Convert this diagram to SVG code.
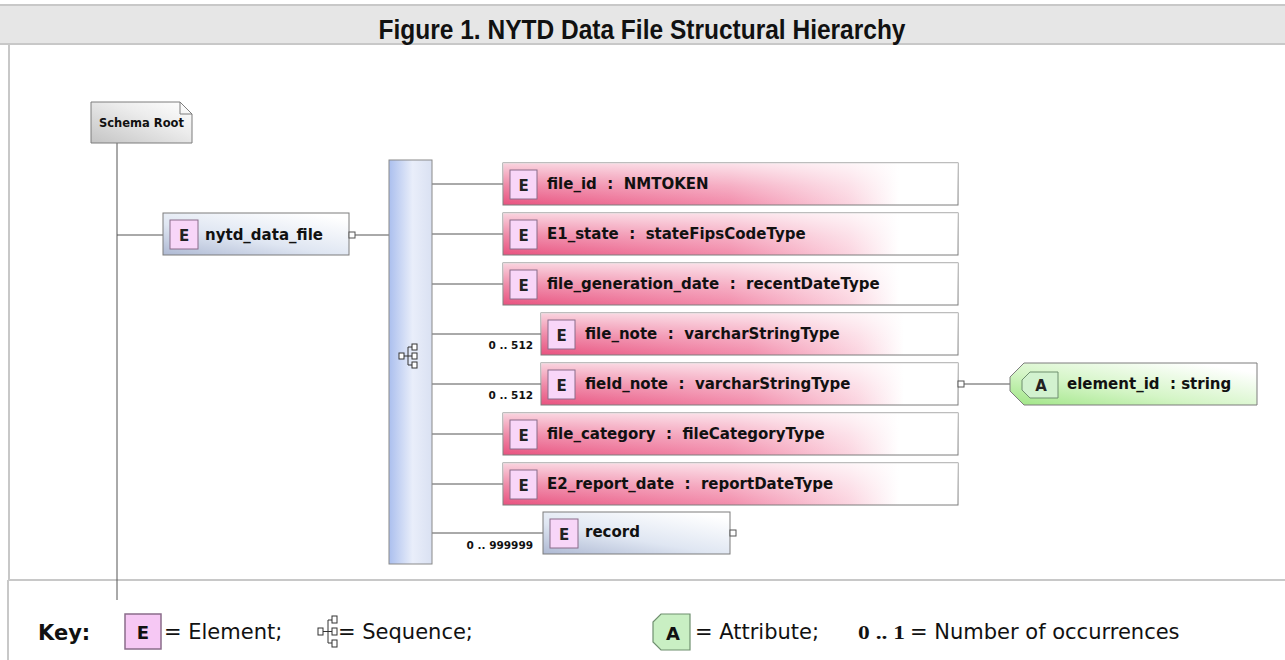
<svg xmlns="http://www.w3.org/2000/svg" width="1285" height="660" viewBox="0 0 1285 660">
<defs>
<linearGradient id="pinkH" x1="0" y1="0" x2="1" y2="0">
<stop offset="0" stop-color="#e8527f"/>
<stop offset="0.5" stop-color="#f28cab"/>
<stop offset="0.76" stop-color="#fbd3df"/>
<stop offset="0.87" stop-color="#ffffff"/>
</linearGradient>
<linearGradient id="whiteV" x1="0" y1="0" x2="0" y2="1">
<stop offset="0" stop-color="#ffffff" stop-opacity="0.75"/>
<stop offset="0.55" stop-color="#ffffff" stop-opacity="0.3"/>
<stop offset="1" stop-color="#ffffff" stop-opacity="0"/>
</linearGradient>
<linearGradient id="blueBox" x1="0" y1="1" x2="0.8" y2="0">
<stop offset="0" stop-color="#aeb9d3"/>
<stop offset="0.45" stop-color="#dfe6f2"/>
<stop offset="1" stop-color="#ffffff"/>
</linearGradient>
<linearGradient id="seqGrad" x1="0" y1="0" x2="1" y2="0">
<stop offset="0" stop-color="#abbfee"/>
<stop offset="0.55" stop-color="#e9eefa"/>
<stop offset="1" stop-color="#dae1f2"/>
</linearGradient>
<linearGradient id="grayGrad" x1="0" y1="1" x2="1" y2="0">
<stop offset="0" stop-color="#c4c4c4"/>
<stop offset="0.6" stop-color="#ececec"/>
<stop offset="1" stop-color="#ffffff"/>
</linearGradient>
<linearGradient id="greenGrad" x1="0" y1="1" x2="1" y2="0">
<stop offset="0" stop-color="#9fe585"/>
<stop offset="0.4" stop-color="#d4f5c6"/>
<stop offset="0.88" stop-color="#ffffff"/>
</linearGradient>
</defs>
<style>
.frame{stroke:#c8c8c8;stroke-width:2;fill:none}
.box{stroke:#7d7d7d;stroke-width:1}
.ebox{fill:#f8d6f8;stroke:#8a6c8a;stroke-width:1}
.etxt{font-family:"DejaVu Sans",Verdana,sans-serif;font-weight:bold;font-size:15px;fill:#111;white-space:pre}
.eltr{font-family:"DejaVu Sans",Verdana,sans-serif;font-weight:bold;font-size:15px;fill:#222;text-anchor:middle}
.occ{font-family:"DejaVu Sans",Verdana,sans-serif;font-weight:bold;font-size:10.5px;fill:#111;text-anchor:end;white-space:pre}
.conn line{stroke:#555;stroke-width:1}
.port{fill:#fff;stroke:#555;stroke-width:1}
.key{font-family:"DejaVu Sans",Verdana,sans-serif;font-size:21px;fill:#111}
.seqi{stroke:#333;stroke-width:1;fill:none}
.seqs{stroke:#333;stroke-width:1;fill:#fff}
</style>
<rect x="0" y="0" width="1285" height="660" fill="#fff"/>
<!-- title band -->
<rect x="0" y="5" width="1285" height="39" fill="#e6e6e6"/>
<line x1="0" y1="5" x2="1285" y2="5" class="frame"/>
<line x1="0" y1="44" x2="1285" y2="44" class="frame"/>
<line x1="9" y1="44" x2="9" y2="580" class="frame"/>
<line x1="8" y1="580" x2="1285" y2="580" class="frame"/>
<line x1="8" y1="580" x2="8" y2="660" class="frame"/>
<text x="642" y="39" text-anchor="middle" font-family="Liberation Sans, Arial, sans-serif" font-weight="bold" font-size="27" textLength="527" lengthAdjust="spacingAndGlyphs" fill="#111">Figure 1. NYTD Data File Structural Hierarchy</text>

<!-- connectors -->
<g id="connectors" class="conn">
<line x1="117" y1="143" x2="117" y2="600"/>
<line x1="117" y1="235" x2="163" y2="235"/>
<line x1="355" y1="235" x2="389" y2="235"/>
<line x1="432" y1="184" x2="503" y2="184"/>
<line x1="432" y1="234" x2="503" y2="234"/>
<line x1="432" y1="284" x2="503" y2="284"/>
<line x1="432" y1="334" x2="541" y2="334"/>
<line x1="432" y1="384" x2="541" y2="384"/>
<line x1="432" y1="434" x2="503" y2="434"/>
<line x1="432" y1="484" x2="503" y2="484"/>
<line x1="432" y1="533" x2="543" y2="533"/>
<line x1="964" y1="384" x2="1010" y2="384"/>
</g>

<g id="schema_root">
<path d="M91,102 H180 L192,114 V143 H91 Z" fill="url(#grayGrad)" class="box"/>
<path d="M180,102 V114 H192" fill="none" stroke="#7d7d7d"/>
<text x="99" y="127" class="etxt" style="font-size:11.5px">Schema Root</text>
</g>

<g id="nytd_data_file">
<rect x="163" y="213" width="186" height="42" fill="url(#blueBox)" class="box"/>
<rect x="170" y="220" width="28" height="29" class="ebox"/>
<text x="184" y="241" class="eltr">E</text>
<text x="205" y="240" class="etxt">nytd_data_file</text>
<rect x="349" y="232" width="6" height="6" class="port"/>
</g>

<g id="sequence">
<rect x="389" y="160" width="43" height="404" fill="url(#seqGrad)" stroke="#8a8a8a"/>
<rect x="399" y="353" width="5" height="6" class="seqs"/>
<line x1="404" y1="356" x2="408" y2="356" class="seqi"/>
<line x1="408" y1="347" x2="408" y2="365" class="seqi"/>
<line x1="408" y1="347" x2="412" y2="347" class="seqi"/>
<line x1="408" y1="356" x2="412" y2="356" class="seqi"/>
<line x1="408" y1="365" x2="412" y2="365" class="seqi"/>
<rect x="412" y="344" width="5" height="6" class="seqs"/>
<rect x="412" y="353" width="5" height="6" class="seqs"/>
<rect x="412" y="362" width="5" height="6" class="seqs"/>
</g>

<g id="file_id">
<rect x="503" y="163" width="455" height="42" fill="url(#pinkH)" class="box"/>
<rect x="503" y="163" width="455" height="42" fill="url(#whiteV)"/>
<rect x="510" y="170" width="27" height="29" class="ebox"/>
<text x="523.5" y="191" class="eltr">E</text>
<text x="547" y="189" class="etxt" xml:space="preserve">file_id  :  NMTOKEN</text>
</g>

<g id="E1_state">
<rect x="503" y="213" width="455" height="42" fill="url(#pinkH)" class="box"/>
<rect x="503" y="213" width="455" height="42" fill="url(#whiteV)"/>
<rect x="510" y="220" width="27" height="29" class="ebox"/>
<text x="523.5" y="241" class="eltr">E</text>
<text x="547" y="239" class="etxt" xml:space="preserve">E1_state  :  stateFipsCodeType</text>
</g>

<g id="file_generation_date">
<rect x="503" y="263" width="455" height="42" fill="url(#pinkH)" class="box"/>
<rect x="503" y="263" width="455" height="42" fill="url(#whiteV)"/>
<rect x="510" y="270" width="27" height="29" class="ebox"/>
<text x="523.5" y="291" class="eltr">E</text>
<text x="547" y="289" class="etxt" xml:space="preserve">file_generation_date  :  recentDateType</text>
</g>

<g id="file_note">
<rect x="541" y="313" width="417" height="42" fill="url(#pinkH)" class="box"/>
<rect x="541" y="313" width="417" height="42" fill="url(#whiteV)"/>
<rect x="548" y="320" width="27" height="29" class="ebox"/>
<text x="561.5" y="341" class="eltr">E</text>
<text x="585" y="339" class="etxt" xml:space="preserve">file_note  :  varcharStringType</text>
<text x="533" y="349" class="occ">0 .. 512</text>
</g>

<g id="field_note">
<rect x="541" y="363" width="417" height="42" fill="url(#pinkH)" class="box"/>
<rect x="541" y="363" width="417" height="42" fill="url(#whiteV)"/>
<rect x="548" y="370" width="27" height="29" class="ebox"/>
<text x="561.5" y="391" class="eltr">E</text>
<text x="585" y="389" class="etxt" xml:space="preserve">field_note  :  varcharStringType</text>
<text x="533" y="399" class="occ">0 .. 512</text>
<rect x="958" y="381" width="6" height="6" class="port"/>
</g>

<g id="element_id">
<path d="M1024,363 H1257 V405 H1024 L1010,391 V377 Z" fill="url(#greenGrad)" class="box"/>
<path d="M1030,372 H1058 V398 H1030 L1022,390 V380 Z" fill="#d2f2cf" stroke="#6f8f6f"/>
<text x="1041" y="391" class="eltr">A</text>
<text x="1067" y="389" class="etxt" xml:space="preserve">element_id  : string</text>
</g>

<g id="file_category">
<rect x="503" y="413" width="455" height="42" fill="url(#pinkH)" class="box"/>
<rect x="503" y="413" width="455" height="42" fill="url(#whiteV)"/>
<rect x="510" y="420" width="27" height="29" class="ebox"/>
<text x="523.5" y="441" class="eltr">E</text>
<text x="547" y="439" class="etxt" xml:space="preserve">file_category  :  fileCategoryType</text>
</g>

<g id="E2_report_date">
<rect x="503" y="463" width="455" height="42" fill="url(#pinkH)" class="box"/>
<rect x="503" y="463" width="455" height="42" fill="url(#whiteV)"/>
<rect x="510" y="470" width="27" height="29" class="ebox"/>
<text x="523.5" y="491" class="eltr">E</text>
<text x="547" y="489" class="etxt" xml:space="preserve">E2_report_date  :  reportDateType</text>
</g>

<g id="record">
<rect x="543" y="512" width="187" height="42" fill="url(#blueBox)" class="box"/>
<rect x="550" y="519" width="28" height="29" class="ebox"/>
<text x="564" y="540" class="eltr">E</text>
<text x="585" y="537" class="etxt">record</text>
<text x="533" y="549" class="occ">0 .. 999999</text>
<rect x="730" y="530" width="6" height="6" class="port"/>
</g>

<g id="legend">
<text x="38" y="640" font-family="DejaVu Sans, Verdana, sans-serif" font-weight="bold" font-size="21" fill="#111">Key:</text>
<rect x="125" y="614" width="36" height="35" fill="#f6c8f4" stroke="#8a6c8a" stroke-width="1.5"/>
<text x="143" y="639" font-family="DejaVu Sans, Verdana, sans-serif" font-weight="bold" font-size="18" text-anchor="middle" fill="#111">E</text>
<text x="164" y="639" class="key">= Element;</text>
<rect x="318" y="628" width="5" height="7" class="seqs"/>
<line x1="323" y1="631.5" x2="328" y2="631.5" class="seqi"/>
<line x1="328" y1="620" x2="328" y2="643" class="seqi"/>
<line x1="328" y1="620" x2="332" y2="620" class="seqi"/>
<line x1="328" y1="631.5" x2="332" y2="631.5" class="seqi"/>
<line x1="328" y1="643" x2="332" y2="643" class="seqi"/>
<rect x="332" y="616" width="5" height="7" class="seqs"/>
<rect x="332" y="628" width="5" height="7" class="seqs"/>
<rect x="332" y="640" width="5" height="7" class="seqs"/>
<text x="338" y="639" class="key">= Sequence;</text>
<path d="M661,614 H690 V650 H661 L653,642 V622 Z" fill="#c9efc3" stroke="#6f8f6f" stroke-width="1.2"/>
<text x="673" y="640" font-family="DejaVu Sans, Verdana, sans-serif" font-weight="bold" font-size="18" text-anchor="middle" fill="#111">A</text>
<text x="695" y="639" class="key">= Attribute;</text>
<text x="858" y="639" font-family="Liberation Serif, Times New Roman, serif" font-weight="bold" font-size="18" textLength="47" lengthAdjust="spacingAndGlyphs" fill="#111">0 .. 1</text>
<text x="910" y="639" class="key">= Number of occurrences</text>
</g>
</svg>
